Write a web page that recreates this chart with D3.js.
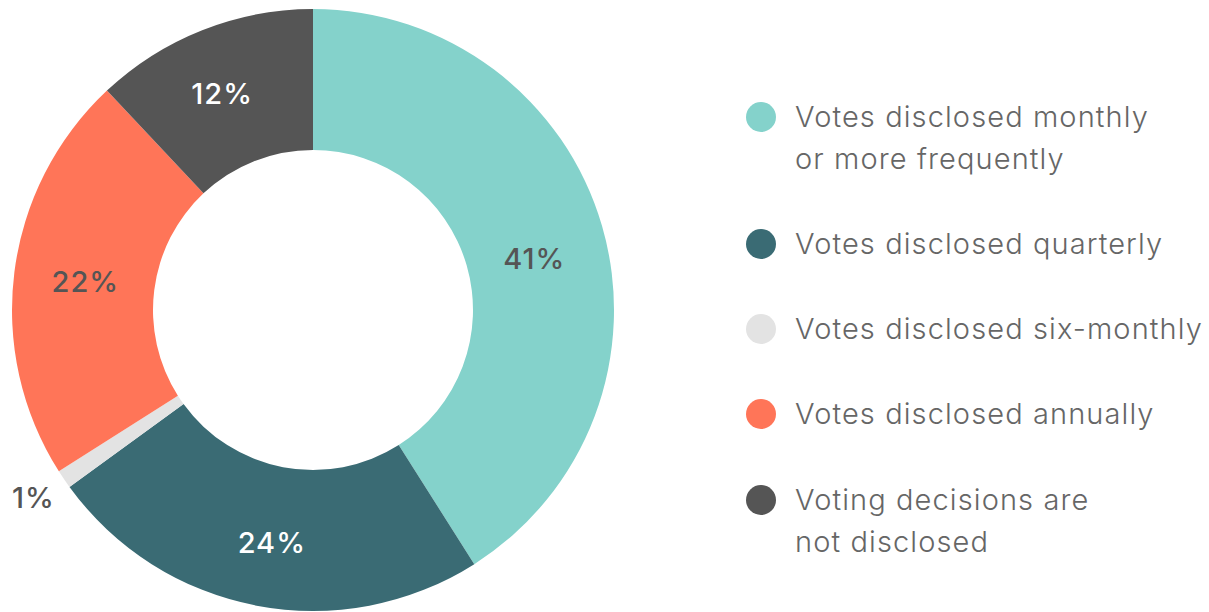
<!DOCTYPE html>
<html><head><meta charset="utf-8">
<script src="https://cdn.jsdelivr.net/npm/d3@7"></script>
<style>html,body{margin:0;padding:0;background:#fff;}svg{display:block;}</style>
</head><body>
<svg id="chart" width="1209" height="612"></svg>
<script>
const categories = ["Votes disclosed monthly|or more frequently","Votes disclosed quarterly","Votes disclosed six-monthly","Votes disclosed annually","Voting decisions are|not disclosed"];
const values = [41, 24, 1, 22, 12];
const labels = ["41%","24%","1%","22%","12%"];
const colors = ["#84D2CB","#3A6B74","#E3E3E3","#FF7558","#555555"];
const labelColors = ["#555555","#ffffff","#555555","#555555","#ffffff"];

const svg = d3.select("#chart");
const cx = 313, cy = 310, R = 301, r = 160;
const g = svg.append("g").attr("transform", `translate(${cx},${cy})`);
const pie = d3.pie().sort(null).value(d => d)(values);
const arc = d3.arc().innerRadius(r).outerRadius(R);
g.selectAll("path").data(pie).join("path").attr("d", arc).attr("fill", (d,i) => colors[i]);
const outerArc = d3.arc().innerRadius(338).outerRadius(338);
// small layout nudges for label placement
const nudge = [[0,13],[2,6],[0,-2],[1,1],[-6,-2]];
g.selectAll("text.lbl").data(pie).join("text").attr("class","lbl")
  .attr("transform", (d,i) => {
    const c = (values[i] < 3 ? outerArc : arc).centroid(d);
    return `translate(${c[0]+nudge[i][0]},${c[1]+nudge[i][1]})`;
  })
  .attr("text-anchor","middle").attr("dy","0.35em")
  .attr("font-family","Inter, 'Noto Sans', sans-serif").attr("font-weight",500).attr("font-size",29)
  .attr("letter-spacing","1px")
  .attr("fill",(d,i)=>labelColors[i]).text((d,i)=>labels[i]);

const legY = [117, 244, 329, 414, 500];
const leg = svg.append("g");
categories.forEach((c,i) => {
  leg.append("circle").attr("cx",761).attr("cy",legY[i]).attr("r",15).attr("fill",colors[i]);
  const t = leg.append("text").attr("x",795).attr("y",legY[i])
    .attr("font-family","Inter, 'Noto Sans', sans-serif").attr("font-weight",300).attr("font-size",29)
    .attr("letter-spacing","1.1px").attr("fill","#666");
  c.split("|").forEach((line,j) => t.append("tspan").attr("x",795).attr("dy", j===0? "0.35em" : "42px").text(line));
});
</script>
</body></html>
